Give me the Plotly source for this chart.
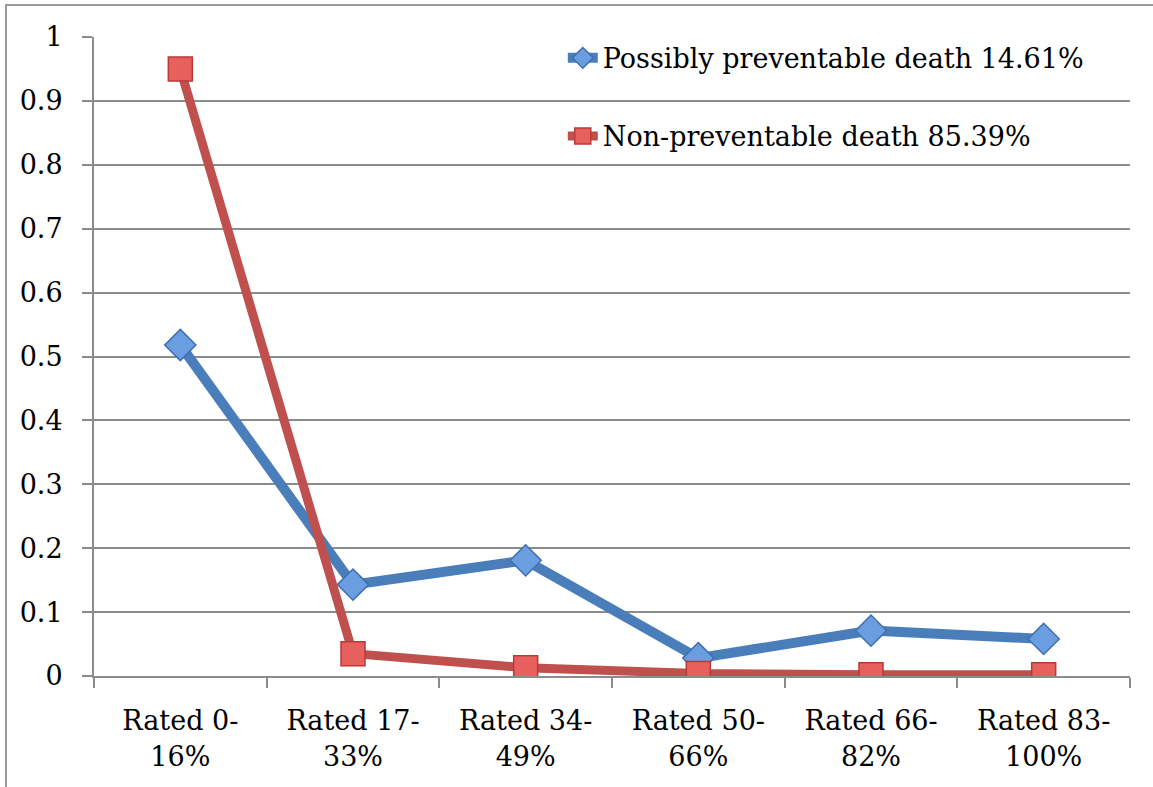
import plotly.graph_objects as go

categories = ["Rated 0-<br>16%", "Rated 17-<br>33%", "Rated 34-<br>49%",
              "Rated 50-<br>66%", "Rated 66-<br>82%", "Rated 83-<br>100%"]
preventable = [0.518, 0.143, 0.181, 0.028, 0.071, 0.058]
non_preventable = [0.950, 0.035, 0.013, 0.004, 0.002, 0.002]
y_ticks = [0, 0.1, 0.2, 0.3, 0.4, 0.5, 0.6, 0.7, 0.8, 0.9, 1]
y_tick_text = ["0", "0.1", "0.2", "0.3", "0.4", "0.5", "0.6", "0.7", "0.8", "0.9", "1"]

FONT = "DejaVu Serif"
GRID = "#8c8c8c"

fig = go.Figure()
fig.add_trace(go.Scatter(
    x=categories, y=preventable, mode="lines+markers",
    name="Possibly preventable death 14.61%", legendgroup="a",
    line=dict(color="#4a7ebb", width=10),
    marker=dict(symbol="diamond", size=24, color="#6b9ee0",
                line=dict(color="#3f6fb0", width=1.5)),
))
fig.add_trace(go.Scatter(
    x=categories, y=non_preventable, mode="lines+markers",
    name="Non-preventable death 85.39%", legendgroup="b",
    line=dict(color="#c0504d", width=9),
    marker=dict(symbol="square", size=24, color="#e8605e",
                line=dict(color="#b83a37", width=1.5)),
))

fig.update_layout(
    width=1153, height=787,
    margin=dict(l=94, r=23, t=37, b=111),
    paper_bgcolor="white", plot_bgcolor="white",
    font=dict(family=FONT, size=27, color="black"),
    hovermode=False,
    legend=dict(x=0.4525, y=1.005, xanchor="left", yanchor="top",
                tracegroupgap=40, font=dict(family=FONT, size=27),
                bgcolor="rgba(0,0,0,0)"),
    xaxis=dict(type="category", showgrid=False, showline=True,
               linecolor=GRID, linewidth=2, ticks="outside",
               tickson="boundaries", ticklen=10, tickcolor=GRID,
               tickwidth=2, range=[-0.5, 5.5], ticklabelstandoff=20),
    yaxis=dict(range=[0, 1], tickvals=y_ticks, ticktext=y_tick_text,
               showgrid=True, gridcolor=GRID, gridwidth=2,
               showline=True, linecolor=GRID, linewidth=2,
               ticks="outside", ticklen=10, tickcolor=GRID, tickwidth=2,
               zeroline=False, ticklabelstandoff=14),
    shapes=[dict(type="rect", xref="paper", yref="paper",
                 x0=(6 - 94) / 1036, x1=(1170 - 94) / 1036,
                 y0=(676 - 800) / 639, y1=(676 - 5) / 639,
                 line=dict(color="#9a9a9a", width=2), layer="below")],
)

fig.write_html("out.html")
